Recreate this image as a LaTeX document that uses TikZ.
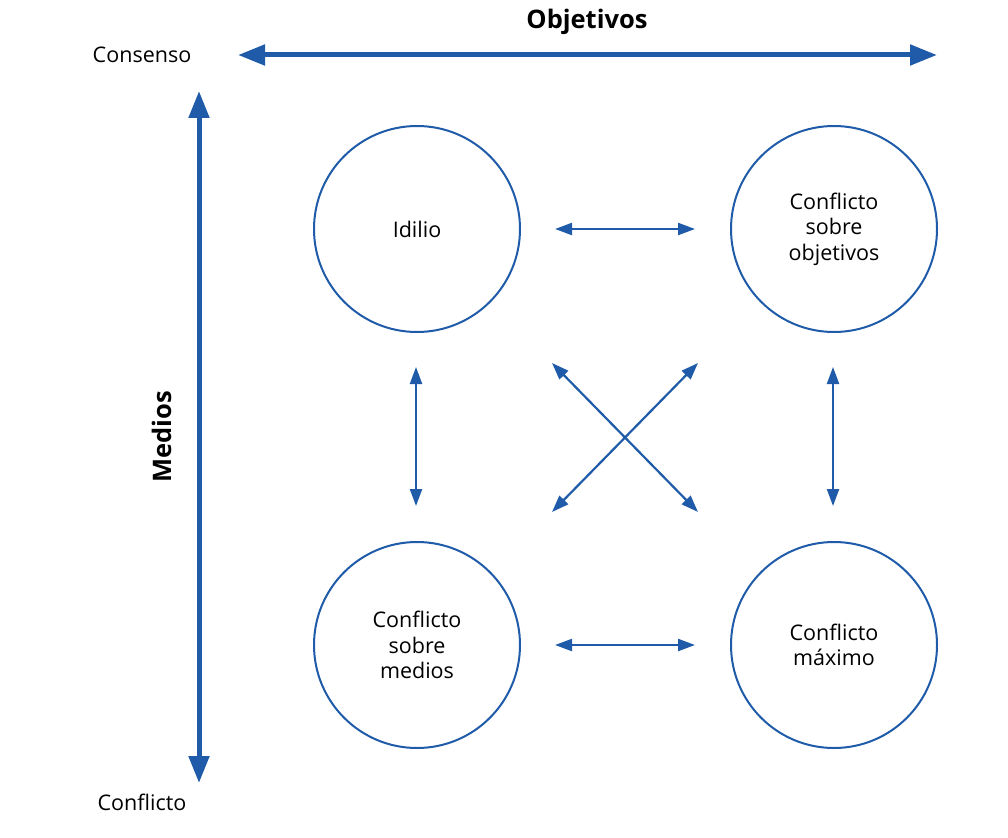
\documentclass[tikz,border=0pt]{standalone}
\usepackage{fontspec}
\setmainfont{Open Sans}
\usetikzlibrary{arrows.meta}
\definecolor{ablue}{HTML}{1F5BA8}
\begin{document}
\begin{tikzpicture}[x=1pt,y=-1pt,
  circ/.style={circle,draw=ablue,line width=2pt,minimum size=206pt,inner sep=0pt,align=center,font=\fontsize{21.5}{25.5}\selectfont},
  bigarrow/.style={draw=ablue,line width=5pt,{Triangle[length=27pt,width=20pt]}-{Triangle[length=27pt,width=20pt]}},
  smallarrow/.style={draw=ablue,line width=2.2pt,{Triangle[length=17pt,width=12pt]}-{Triangle[length=17pt,width=12pt]}},
  lbl/.style={font=\fontsize{21.5}{25}\selectfont},
  title/.style={font=\fontsize{25.5}{30}\selectfont\bfseries}]
\useasboundingbox (0,0) rectangle (1008,837);
\node[circ] (A) at (417,229) {Idilio};
\node[circ] (B) at (834,229) {Conflicto\\sobre\\objetivos};
\node[circ] (C) at (417,645) {Conflicto\\sobre\\medios};
\node[circ] (D) at (834,645) {Conflicto\\máximo};
\node[title] (obj) at (587,22) {Objetivos};
\node[title,rotate=90] (med) at (162,437) {Medios};
\node[lbl] (cons) at (142,55) {Consenso};
\node[lbl] (conf) at (142,802) {Conflicto};
\coordinate (h1) at (238,55); \coordinate (h2) at (937,55);
\coordinate (v1) at (199,91); \coordinate (v2) at (199,783);
\draw[bigarrow] (h1) -- (h2);
\draw[bigarrow] (v1) -- (v2);
\coordinate (ab1) at (555,229); \coordinate (ab2) at (695,229);
\coordinate (cd1) at (555,645); \coordinate (cd2) at (695,645);
\coordinate (ac1) at (416,367); \coordinate (ac2) at (416,506);
\coordinate (bd1) at (833,367); \coordinate (bd2) at (833,506);
\coordinate (x1) at (552,363); \coordinate (x2) at (698,512);
\coordinate (y1) at (698,363); \coordinate (y2) at (552,512);
\draw[smallarrow] (ab1) -- (ab2);
\draw[smallarrow] (cd1) -- (cd2);
\draw[smallarrow] (ac1) -- (ac2);
\draw[smallarrow] (bd1) -- (bd2);
\draw[smallarrow] (x1) -- (x2);
\draw[smallarrow] (y1) -- (y2);
\end{tikzpicture}
\end{document}
